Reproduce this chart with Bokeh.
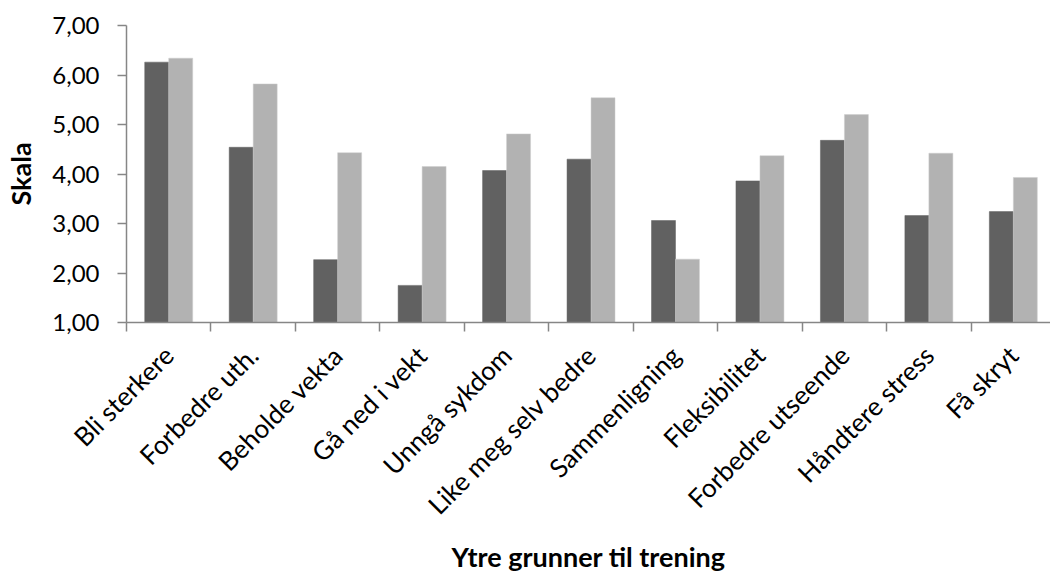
import math
from bokeh.plotting import figure
from bokeh.models import Range1d, FixedTicker, ColumnDataSource
from bokeh.embed import file_html
from bokeh.resources import INLINE

categories = ["Bli sterkere", "Forbedre uth.", "Beholde vekta", "Gå ned i vekt",
              "Unngå sykdom", "Like meg selv bedre", "Sammenligning", "Fleksibilitet",
              "Forbedre utseende", "Håndtere stress", "Få skryt"]
series_dark = [6.26, 4.54, 2.27, 1.75, 4.07, 4.30, 3.06, 3.86, 4.68, 3.16, 3.24]
series_light = [6.34, 5.82, 4.43, 4.15, 4.81, 5.54, 2.28, 4.37, 5.20, 4.42, 3.93]
y_ticks = [1, 2, 3, 4, 5, 6, 7]
y_tick_labels = ["1,00", "2,00", "3,00", "4,00", "5,00", "6,00", "7,00"]
x_title = "Ytre grunner til trening"
y_title = "Skala"

FONT = "Lato"
AXIS_COL = "#868686"

n = len(categories)
centers = [i + 0.5 for i in range(n)]
bw = 0.284
src = ColumnDataSource(dict(
    xd=[c - bw / 2 for c in centers],
    xl=[c + bw / 2 for c in centers],
    dark=series_dark,
    light=series_light,
))

p = figure(width=1050, height=575, output_backend="svg", toolbar_location=None,
           x_range=Range1d(0, 10.94), y_range=Range1d(1, 7),
           min_border_left=126, min_border_right=0, min_border_top=25,
           min_border_bottom=252)
p.outline_line_color = None
p.xgrid.visible = False
p.ygrid.visible = False
p.background_fill_color = "white"
p.border_fill_color = "white"

p.vbar(x="xd", width=bw, bottom=1, top="dark", source=src,
       fill_color="#616161", line_color="#616161", line_width=0.5)
p.vbar(x="xl", width=bw, bottom=1, top="light", source=src,
       fill_color="#b2b2b2", line_color="#cfcfcf", line_width=0.5)

# y axis
ya = p.yaxis[0]
ya.ticker = FixedTicker(ticks=y_ticks, minor_ticks=[])
ya.major_label_overrides = {float(t): l for t, l in zip(y_ticks, y_tick_labels)}
ya.axis_line_color = AXIS_COL
ya.axis_line_width = 1.5
ya.major_tick_line_color = AXIS_COL
ya.major_tick_line_width = 1.5
ya.major_tick_in = 0
ya.major_tick_out = 9
ya.minor_tick_line_color = None
ya.major_label_text_font = FONT
ya.major_label_text_font_size = "24px"
ya.major_label_text_color = "black"
ya.major_label_standoff = 18
ya.axis_label = y_title
ya.axis_label_text_font = FONT
ya.axis_label_text_font_style = "bold"
ya.axis_label_text_font_size = "27px"
ya.axis_label_text_color = "black"
ya.axis_label_standoff = 12

# x axis
xa = p.xaxis[0]
xa.ticker = FixedTicker(ticks=centers, minor_ticks=list(range(n + 1)))
xa.major_label_overrides = {float(c): lab for c, lab in zip(centers, categories)}
xa.axis_line_color = AXIS_COL
xa.axis_line_width = 1.5
xa.major_tick_line_color = None
xa.major_tick_in = 0
xa.major_tick_out = 0
xa.minor_tick_line_color = AXIS_COL
xa.minor_tick_line_width = 1.5
xa.minor_tick_in = 0
xa.minor_tick_out = 9
xa.major_label_orientation = math.pi / 4
xa.major_label_text_font = FONT
xa.major_label_text_font_size = "26px"
xa.major_label_text_color = "black"
xa.major_label_standoff = 19
xa.axis_label = x_title
xa.axis_label_text_font = FONT
xa.axis_label_text_font_style = "bold"
xa.axis_label_text_font_size = "27px"
xa.axis_label_text_color = "black"
xa.axis_label_standoff = 5

open("out.html", "w").write(file_html(p, INLINE))
